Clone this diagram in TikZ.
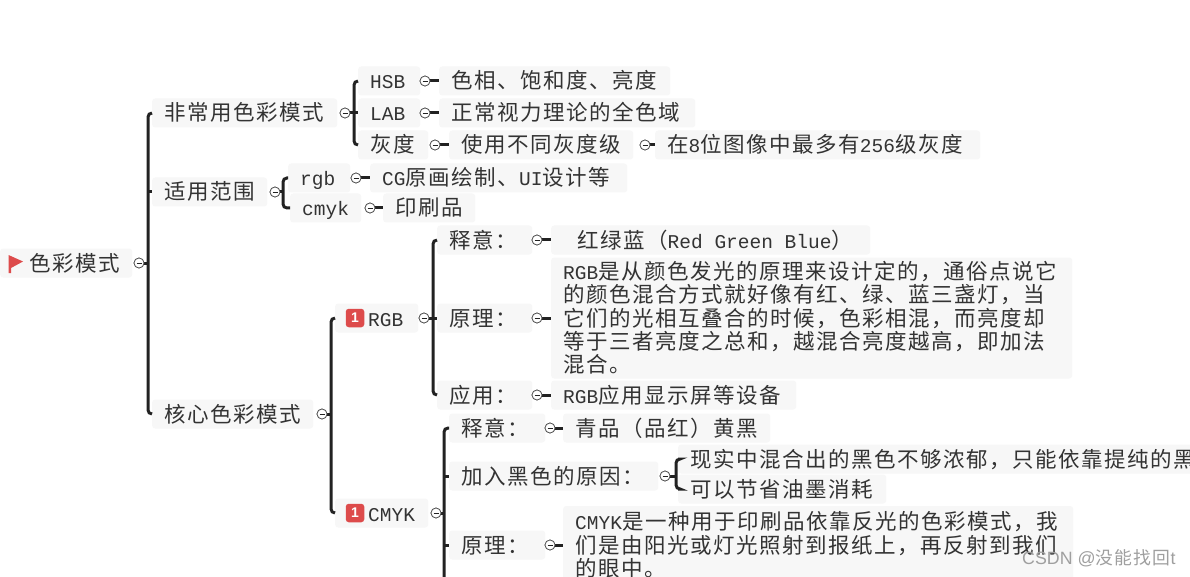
\documentclass[tikz,border=0pt]{standalone}
\usepackage{fontspec}
\setmainfont{Noto Sans CJK SC}[LetterSpace=7]
\newfontfamily\latf{Liberation Mono}[Scale=0.907]
\newfontfamily\wmf{Liberation Sans}
\newcommand\ltn[1]{{\latf #1}}
\newcommand\qcm{^^^^ff0c}
\newcommand\qcl{^^^^ff1a}
\newcommand\qlp{^^^^ff08}
\newcommand\qrp{^^^^ff09}
\definecolor{bgc}{HTML}{F7F7F7}
\definecolor{inkc}{HTML}{333333}
\definecolor{linec}{HTML}{222222}
\definecolor{redc}{HTML}{DD4B4B}
\tikzset{
  tp/.style={fill=bgc,rounded corners=3pt,inner xsep=12pt,inner ysep=0pt,minimum height=29pt,anchor=west,align=left,
    text=inkc,text height=18pt,text depth=2pt,font=\fontsize{21.5}{23.2}\selectfont},
  mn/.style={circle,draw=linec!80,fill=white,line width=.7pt,minimum size=10pt,inner sep=0pt,
    path picture={\draw[linec,line width=.7pt] ([xshift=2.5pt]path picture bounding box.west) -- ([xshift=-2.5pt]path picture bounding box.east);}},
  conn/.style={draw=linec,line width=3pt},
  brk/.style={draw=linec,line width=3pt,rounded corners=4pt},
  badge/.style={fill=redc,rounded corners=3pt,minimum size=18.5pt,inner sep=0pt,text=white,font=\wmf\bfseries\fontsize{14}{14}\selectfont},
}
\begin{document}
\begin{tikzpicture}[x=1pt,y=-1pt]
\useasboundingbox (0,0) rectangle (1190,577);
\clip (0,0) rectangle (1190,577);
\fill[white] (0,0) rectangle (1190,577);
% nodes, level 0/1
\node[tp,text width=108pt] (root) at (0,263) {\hspace*{17pt}色彩模式};
\fill[redc] (8.5,255) -- (23,261.5) -- (11,268) -- (11,273) -- (8.5,273) -- cycle;
\node[tp,text width=161pt] (rare) at (152,113) {非常用色彩模式};
\node[tp,text width=91pt] (scope) at (152,192) {适用范围};
\node[tp,text width=137pt] (core) at (152,414) {核心色彩模式};
% rare
\node[tp,text width=38pt] (hsb) at (358,81) {\ltn{HSB}};
\node[tp,text width=38pt] (lab) at (358,113) {\ltn{LAB}};
\node[tp,text width=46pt] (gray) at (358,145) {灰度};
\node[tp,text width=207pt] (hsbd) at (439,81) {色相、饱和度、亮度};
\node[tp,text width=232pt] (labd) at (439,113) {正常视力理论的全色域};
\node[tp,text width=160pt] (grayd) at (449,145) {使用不同灰度级};
\node[tp,text width=301pt] (grayn) at (655,145) {在\ltn{8}位图像中最多有\ltn{256}级灰度};
% scope
\node[tp,text width=38pt] (rgbs) at (288,178) {\ltn{rgb}};
\node[tp,text width=47pt] (cmyks) at (290,208) {\ltn{cmyk}};
\node[tp,text width=233pt] (rgbd) at (370,178) {\ltn{CG}原画绘制、\ltn{UI}设计等};
\node[tp,text width=68pt] (cmykd) at (383,208) {印刷品};
% RGB
\node[tp,text width=59pt] (rgb) at (335,318) {\hspace*{21pt}\ltn{RGB}};
\node[badge] (rgbb) at (355,318) {1};
\node[tp,text width=71pt] (r1) at (437,240) {释意\qcl{}};
\node[tp,text width=71pt] (r2) at (437,318) {原理\qcl{}};
\node[tp,text width=71pt] (r3) at (437,395) {应用\qcl{}};
\node[tp,text width=295pt] (r1d) at (551,240) {\hspace*{14pt}红绿蓝\qlp{}\ltn{Red\hspace{11.7pt}Green\hspace{11.7pt}Blue}\qrp{}};
\node[tp,text width=497pt,minimum height=121pt,text depth=94.8pt] (r2d) at (551,318) {\ltn{RGB}是从颜色发光的原理来设计定的\qcm{}通俗点说它\\的颜色混合方式就好像有红、绿、蓝三盏灯\qcm{}当\\它们的光相互叠合的时候\qcm{}色彩相混\qcm{}而亮度却\\等于三者亮度之总和\qcm{}越混合亮度越高\qcm{}即加法\\混合。};
\node[tp,text width=221pt] (r3d) at (551,395) {\ltn{RGB}应用显示屏等设备};
% CMYK
\node[tp,text width=69pt] (cmyk) at (335,513) {\hspace*{21pt}\ltn{CMYK}};
\node[badge] (cmykb) at (355,513) {1};
\node[tp,text width=72pt] (c1) at (449,428) {释意\qcl{}};
\node[tp,text width=185pt] (c2) at (449,476) {加入黑色的原因\qcl{}};
\node[tp,text width=72pt] (c3) at (449,545) {原理\qcl{}};
\node[tp,text width=183pt] (c1d) at (563,428) {青品\qlp{}品红\qrp{}黄黑};
\node[tp,text width=530pt] (c2a) at (678,459) {现实中混合出的黑色不够浓郁\qcm{}只能依靠提纯的黑};
\node[tp,text width=184pt] (c2b) at (678,489) {可以节省油墨消耗};
\node[tp,text width=486pt,minimum height=78pt,text depth=48.4pt] (c3d) at (563,545) {\ltn{CMYK}是一种用于印刷品依靠反光的色彩模式\qcm{}我\\们是由阳光或灯光照射到报纸上\qcm{}再反射到我们\\的眼中。};
% collapse markers
\node[mn] (mroot) at (139,263) {};
\node[mn] (mrare) at (345,113) {};
\node[mn] (mscope) at (275,192) {};
\node[mn] (mcore) at (322,414) {};
\node[mn] (mhsb) at (425,81) {};
\node[mn] (mlab) at (425,113) {};
\node[mn] (mgray) at (435,145) {};
\node[mn] (mgrayd) at (645,145) {};
\node[mn] (mrgbs) at (356,178) {};
\node[mn] (mcmyks) at (370,208) {};
\node[mn] (mrgb) at (424,318) {};
\node[mn] (mr1) at (537,240) {};
\node[mn] (mr2) at (537,318) {};
\node[mn] (mr3) at (537,395) {};
\node[mn] (mcmyk) at (436,513) {};
\node[mn] (mc1) at (550,428) {};
\node[mn] (mc2) at (665,476) {};
\node[mn] (mc3) at (550,545) {};
% bracket spines
\coordinate (s0) at (148,0);
\coordinate (s1) at (354,0);
\coordinate (s2) at (283,0);
\coordinate (s3) at (331,0);
\coordinate (s4) at (433,0);
\coordinate (s5) at (444,0);
\coordinate (s6) at (676,0);
\coordinate (fr) at (449,590);
\draw[brk] (rare.west) -- (rare.west -| s0) -- (core.west -| s0) -- (core.west);
\draw[conn] (scope.west -| s0) -- (scope.west);
\draw[conn] (mroot) -- (mroot -| s0);
\draw[brk] (hsb.west) -- (hsb.west -| s1) -- (gray.west -| s1) -- (gray.west);
\draw[conn] (lab.west -| s1) -- (lab.west);
\draw[conn] (mrare) -- (mrare -| s1);
\draw[brk] (rgbs.west) -- (rgbs.west -| s2) -- (cmyks.west -| s2) -- (cmyks.west);
\draw[conn] (mscope) -- (mscope -| s2);
\draw[brk] (rgb.west) -- (rgb.west -| s3) -- (cmyk.west -| s3) -- (cmyk.west);
\draw[conn] (mcore) -- (mcore -| s3);
\draw[brk] (r1.west) -- (r1.west -| s4) -- (r3.west -| s4) -- (r3.west);
\draw[conn] (r2.west -| s4) -- (r2.west);
\draw[conn] (mrgb) -- (mrgb -| s4);
\draw[brk] (c1.west) -- (c1.west -| s5) -- (fr -| s5);
\draw[conn] (c2.west -| s5) -- (c2.west);
\draw[conn] (c3.west -| s5) -- (c3.west);
\draw[conn] (mcmyk) -- (mcmyk -| s5);
\draw[brk] (c2a.west) -- (c2a.west -| s6) -- (c2b.west -| s6) -- (c2b.west);
\draw[conn] (mc2) -- (mc2 -| s6);
% dashes
\draw[conn] (mhsb) -- (hsbd.west);
\draw[conn] (mlab) -- (labd.west);
\draw[conn] (mgray) -- (grayd.west);
\draw[conn] (mgrayd) -- (grayn.west);
\draw[conn] (mrgbs) -- (rgbd.west);
\draw[conn] (mcmyks) -- (cmykd.west);
\draw[conn] (mr1) -- (r1d.west);
\draw[conn] (mr2) -- (r2d.west);
\draw[conn] (mr3) -- (r3d.west);
\draw[conn] (mc1) -- (c1d.west);
\draw[conn] (mc3) -- (c3d.west);
% markers on top of their stubs
\foreach \p in {{139,263},{345,113},{275,192},{322,414},{425,81},{425,113},{435,145},{645,145},{356,178},{370,208},{424,318},{537,240},{537,318},{537,395},{436,513},{550,428},{665,476},{550,545}}{\node[mn] at (\p) {};}
% watermark
\node[anchor=west,inner sep=0pt,text=gray!75,font=\fontsize{17.8}{18}\selectfont] (wm) at (1022,558) {{\wmf CSDN @}没能找回{\wmf t}};
\end{tikzpicture}
\end{document}
